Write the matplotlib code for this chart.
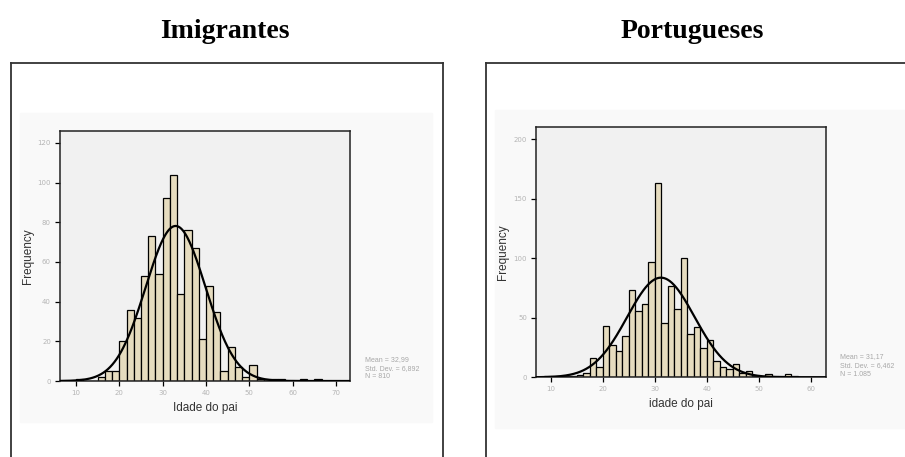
import numpy as np
import matplotlib.pyplot as plt
from matplotlib.lines import Line2D
from matplotlib.patches import Rectangle

# idade do pai - imigrantes (bins of 5/3 year starting at 10)
imig_start = 10.0
imig_width = 5.0 / 3.0
imig_counts = [1, 0, 0, 2, 5, 5, 20, 36, 32, 53, 73, 54, 92, 104, 44, 76, 67,
               21, 48, 35, 5, 17, 7, 2, 8, 1, 1, 1, 1, 0, 0, 1, 0, 1]
imig_mean, imig_sd, imig_n = 32.99, 6.892, 810
imig_stats = ["Mean = 32,99", "Std. Dev. = 6,892", "N = 810"]

# idade do pai - portugueses (bins of 1.25 year starting at 8.75)
port_start = 8.75
port_width = 1.25
port_counts = [1, 1, 1, 1, 1, 2, 4, 16, 9, 43, 27, 22, 35, 73, 56, 62, 97, 163,
               46, 77, 57, 100, 36, 42, 25, 31, 14, 9, 7, 11, 4, 5, 1, 1, 3, 1,
               1, 3, 1]
port_mean, port_sd, port_n = 31.17, 6.462, 1085
port_stats = ["Mean = 31,17", "Std. Dev. = 6,462", "N = 1.085"]

W, H = 905, 457
fig = plt.figure(figsize=(W / 100, H / 100), dpi=100)
fig.patch.set_facecolor("white")

def px(x0, y0, x1, y1):
    # pixel box -> figure fraction rect
    return [x0 / W, 1 - y1 / H, (x1 - x0) / W, (y1 - y0) / H]

def frame(x0, x1, top, right_edge=True):
    kw = dict(color="#333333", lw=1.3, transform=fig.transFigure)
    fig.add_artist(Line2D([x0 / W, x0 / W], [0, 1 - top / H], **kw))
    fig.add_artist(Line2D([x0 / W, x1 / W], [1 - top / H, 1 - top / H], **kw))
    if right_edge:
        fig.add_artist(Line2D([x1 / W, x1 / W], [0, 1 - top / H], **kw))

def panel(rect, bg, start, width, counts, mean, sd, n, xlim, ylim, xticks,
          yticks, xlabel, stats, stats_xy, ylab_x, xlab_y):
    fig.add_artist(Rectangle((bg[0] / W, 1 - bg[3] / H),
                             (bg[2] - bg[0]) / W, (bg[3] - bg[1]) / H,
                             transform=fig.transFigure, color="#f9f9f9",
                             zorder=0))
    ax = fig.add_axes(rect)
    ax.set_facecolor("#f1f1f1")
    edges = start + width * np.arange(len(counts))
    ax.bar(edges, counts, width=width, align="edge", color="#e6dcbf",
           edgecolor="black", linewidth=0.9, zorder=2)
    xs = np.linspace(xlim[0], xlim[1], 400)
    ys = n * width * np.exp(-0.5 * ((xs - mean) / sd) ** 2) / (sd * np.sqrt(2 * np.pi))
    ax.plot(xs, ys, color="black", lw=1.6, zorder=3)
    ax.set_xlim(*xlim)
    ax.set_ylim(*ylim)
    ax.set_xticks(xticks)
    ax.set_yticks(yticks)
    ax.tick_params(direction="out", length=3.5, width=0.9, labelsize=5,
                   labelcolor="#b5b5b5", pad=3)
    for s in ax.spines.values():
        s.set_linewidth(1.1)
        s.set_color("#222222")
    fig.text(ylab_x / W, 1 - (rect_center_y(rect)) / H, "Frequency",
             rotation=90, ha="center", va="center", fontsize=8.5,
             family="Liberation Sans", color="#333333")
    fig.text((rect[0] + rect[2] / 2), 1 - xlab_y / H, xlabel, ha="center",
             va="center", fontsize=8.5, family="Liberation Sans",
             color="#333333")
    for i, s in enumerate(stats):
        fig.text(stats_xy[0] / W, 1 - (stats_xy[1] + i * 8.5) / H, s,
                 ha="left", va="center", fontsize=5, color="#a8a8a8",
                 family="Liberation Sans")
    return ax

def rect_center_y(rect):
    return (1 - rect[1] - rect[3] / 2) * H

# left: Imigrantes
frame(11, 443, 63)
fig.text(225 / W, 1 - 38 / H, "Imigrantes", ha="center", va="baseline",
         fontsize=20, fontweight="bold", family="Liberation Serif")
panel(px(60, 131, 350, 381), (20, 113, 432, 422), imig_start, imig_width,
      imig_counts, imig_mean, imig_sd, imig_n, (6.31, 73.23), (0, 126),
      [10, 20, 30, 40, 50, 60, 70], [0, 20, 40, 60, 80, 100, 120],
      "Idade do pai", imig_stats, (365, 360), 28, 408)

# right: Portugueses
frame(486, 905, 63, right_edge=False)
fig.text(692 / W, 1 - 38 / H, "Portugueses", ha="center", va="baseline",
         fontsize=20, fontweight="bold", family="Liberation Serif")
panel(px(536, 126.7, 826, 377.3), (495, 110, 905, 428), port_start,
      port_width, port_counts, port_mean, port_sd, port_n, (7.18, 62.88),
      (0, 210.6), [10, 20, 30, 40, 50, 60], [0, 50, 100, 150, 200],
      "idade do pai", port_stats, (840, 357), 503, 404)

fig.savefig("out.png", dpi=100)
